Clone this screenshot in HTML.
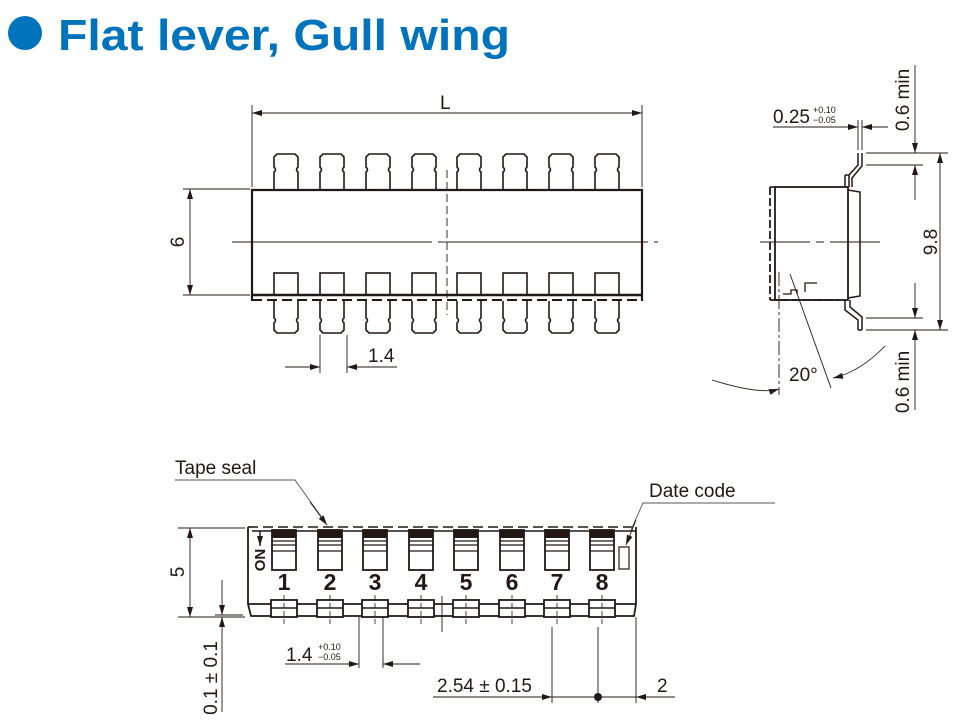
<!DOCTYPE html>
<html><head><meta charset="utf-8"><style>
html,body{margin:0;padding:0;background:#fff;}
svg{display:block;font-family:"Liberation Sans",sans-serif;}
</style></head><body>
<svg width="956" height="721" viewBox="0 0 956 721" xmlns="http://www.w3.org/2000/svg">
<defs>
<marker id="a" viewBox="0 0 10 6" refX="10" refY="3" markerWidth="10" markerHeight="6" markerUnits="userSpaceOnUse" orient="auto"><path d="M0,0 L10,3 L0,6 Z" fill="#231815"/></marker>
<g id="tp" fill="none" stroke="#231815" stroke-width="1.6">
<path d="M-12,190 V172 q3,-2 0,-5 V157 l3,-3 h18 l3,3 V167 q-3,3 0,5 V190"/>
</g>
<g id="bp" fill="none" stroke="#231815" stroke-width="1.6">
<rect x="-12" y="273" width="24" height="22"/>
<path d="M-12,301 V318 q3,2 0,5 V330 l3,3 h18 l3,-3 V323 q-3,-3 0,-5 V301"/>
</g>
<g id="sw" fill="none" stroke="#231815">
<rect x="-12" y="530" width="24" height="40" stroke-width="1.8"/>
<rect x="-12" y="530" width="24" height="8" fill="#231815" stroke="none"/>
<line x1="-12" y1="541" x2="12" y2="541" stroke-width="1.2"/>
<line x1="-12" y1="545" x2="12" y2="545" stroke-width="1.2"/>
<line x1="-12" y1="551" x2="12" y2="551" stroke-width="1.2"/>
<rect x="-13" y="600" width="26" height="17" stroke-width="1.8" fill="#fff"/>
<line x1="-13" y1="608" x2="13" y2="608" stroke-width="1.6"/>
<line x1="0" y1="595" x2="0" y2="627" stroke-width="0.8" stroke-dasharray="5,3"/>
</g>
</defs>

<!-- Title -->
<circle cx="25" cy="33" r="17" fill="#0073bd"/>
<text x="58" y="50" font-size="44" font-weight="bold" fill="#0073bd" textLength="452" lengthAdjust="spacingAndGlyphs">Flat lever, Gull wing</text>

<g stroke="#231815" fill="none">
<!-- TOP VIEW -->
<use href="#tp" x="286"/><use href="#tp" x="332"/><use href="#tp" x="378"/><use href="#tp" x="424"/>
<use href="#tp" x="469"/><use href="#tp" x="515"/><use href="#tp" x="561"/><use href="#tp" x="607"/>
<use href="#bp" x="286"/><use href="#bp" x="332"/><use href="#bp" x="378"/><use href="#bp" x="424"/>
<use href="#bp" x="469"/><use href="#bp" x="515"/><use href="#bp" x="561"/><use href="#bp" x="607"/>
<path d="M252,301 V190 H642 V301" stroke-width="2.2"/>
<line x1="252" y1="295" x2="642" y2="295" stroke-width="2.4"/>
<line x1="252" y1="300" x2="642" y2="300" stroke-width="2" stroke-dasharray="10,5"/>
<line x1="232" y1="242" x2="660" y2="242" stroke-width="0.9" stroke-dasharray="200,6,4,6"/>
<line x1="447" y1="170" x2="447" y2="315" stroke-width="0.9" stroke-dasharray="8,4"/>
<line x1="442" y1="242" x2="452" y2="242" stroke-width="0.9"/>
<!-- L -->
<line x1="252" y1="105" x2="252" y2="187" stroke-width="0.9"/>
<line x1="642" y1="105" x2="642" y2="187" stroke-width="0.9"/>
<line x1="262" y1="113" x2="252" y2="113" stroke-width="0.9" marker-end="url(#a)"/>
<line x1="262" y1="113" x2="632" y2="113" stroke-width="0.9"/>
<line x1="632" y1="113" x2="642" y2="113" stroke-width="0.9" marker-end="url(#a)"/>
<!-- 6 -->
<line x1="183" y1="189" x2="250" y2="189" stroke-width="0.9"/>
<line x1="183" y1="295" x2="250" y2="295" stroke-width="0.9"/>
<line x1="190" y1="199" x2="190" y2="285" stroke-width="0.9"/>
<line x1="190" y1="199" x2="190" y2="189" stroke-width="0.9" marker-end="url(#a)"/>
<line x1="190" y1="285" x2="190" y2="295" stroke-width="0.9" marker-end="url(#a)"/>
<!-- 1.4 top -->
<line x1="320" y1="335" x2="320" y2="373" stroke-width="0.9"/>
<line x1="347" y1="335" x2="347" y2="373" stroke-width="0.9"/>
<line x1="285" y1="367" x2="320" y2="367" stroke-width="0.9" marker-end="url(#a)"/>
<line x1="397" y1="367" x2="347" y2="367" stroke-width="0.9" marker-end="url(#a)"/>

<!-- SIDE VIEW -->
<rect x="775" y="187" width="73" height="113" stroke-width="1.8"/>
<line x1="770" y1="187" x2="770" y2="300" stroke-width="1.8" stroke-dasharray="8,3"/>
<line x1="770" y1="300" x2="840" y2="300" stroke-width="1.8" stroke-dasharray="8,3"/>
<line x1="770" y1="187" x2="775" y2="187" stroke-width="1.6"/>
<path d="M848,190 L860,192 V296 L848,298" stroke-width="1.5"/>
<path d="M858,153 V165 L849,175 V187 M862,153 V166 L852,178 V187" stroke-width="1.5"/>
<path d="M845,175 L849,175 M845,175 V187" stroke-width="1.5"/>
<path d="M845,300 V310 L858,320 V330 M850,300 V307 L862,317 V330 M858,330 H862" stroke-width="1.5"/>
<path d="M783,294 h8 v-4 h6 v4 M805,292 v-9 h12" stroke-width="1.3"/>
<line x1="760" y1="242" x2="883" y2="242" stroke-width="0.9" stroke-dasharray="50,6,8,6"/>
<!-- 0.25 -->
<line x1="858" y1="120" x2="858" y2="150" stroke-width="0.9"/>
<line x1="862" y1="120" x2="862" y2="150" stroke-width="0.9"/>
<line x1="773" y1="127" x2="858" y2="127" stroke-width="0.9" marker-end="url(#a)"/>
<line x1="888" y1="127" x2="862" y2="127" stroke-width="0.9" marker-end="url(#a)"/>
<!-- 0.6 / 9.8 -->
<line x1="866" y1="153" x2="948" y2="153" stroke-width="0.9"/>
<line x1="866" y1="165" x2="923" y2="165" stroke-width="0.9"/>
<line x1="866" y1="318" x2="923" y2="318" stroke-width="0.9"/>
<line x1="866" y1="330" x2="948" y2="330" stroke-width="0.9"/>
<line x1="915" y1="140" x2="915" y2="153" stroke-width="0.9" marker-end="url(#a)"/>
<line x1="915" y1="65" x2="915" y2="142" stroke-width="0.9"/>
<line x1="915" y1="200" x2="915" y2="165" stroke-width="0.9" marker-end="url(#a)"/>
<line x1="915" y1="283" x2="915" y2="318" stroke-width="0.9" marker-end="url(#a)"/>
<line x1="915" y1="410" x2="915" y2="330" stroke-width="0.9" marker-end="url(#a)"/>
<line x1="940" y1="163" x2="940" y2="153" stroke-width="0.9" marker-end="url(#a)"/>
<line x1="940" y1="163" x2="940" y2="320" stroke-width="0.9"/>
<line x1="940" y1="320" x2="940" y2="330" stroke-width="0.9" marker-end="url(#a)"/>
<!-- 20 deg -->
<line x1="779" y1="272" x2="779" y2="395" stroke-width="0.9" stroke-dasharray="14,3,3,3"/>
<line x1="790" y1="274" x2="831" y2="388" stroke-width="0.9"/>
<path d="M712,380 Q760,395 779,389" stroke-width="0.9" marker-end="url(#a)"/>
<path d="M885,346 Q860,372 833,378" stroke-width="0.9" marker-end="url(#a)"/>

<!-- BOTTOM VIEW -->
<path d="M248,527 V604 L251,616 H634 L636,604 V527" stroke-width="1.8"/>
<line x1="248" y1="604" x2="636" y2="604" stroke-width="1.8"/>
<line x1="248" y1="527" x2="636" y2="527" stroke-width="1.6" stroke-dasharray="10,5"/>
<line x1="252" y1="531" x2="636" y2="531" stroke-width="1.4"/>
<use href="#sw" x="284"/><use href="#sw" x="330"/><use href="#sw" x="375"/><use href="#sw" x="421"/>
<use href="#sw" x="466"/><use href="#sw" x="512"/><use href="#sw" x="557"/><use href="#sw" x="602"/>
<rect x="619" y="547" width="10" height="22" stroke-width="1.2"/>
<line x1="442" y1="596" x2="442" y2="632" stroke-width="0.9"/>
<!-- 5 -->
<line x1="178" y1="528" x2="245" y2="528" stroke-width="0.9"/>
<line x1="178" y1="617" x2="245" y2="617" stroke-width="0.9"/>
<line x1="190" y1="538" x2="190" y2="528" stroke-width="0.9" marker-end="url(#a)"/>
<line x1="190" y1="538" x2="190" y2="607" stroke-width="0.9"/>
<line x1="190" y1="607" x2="190" y2="617" stroke-width="0.9" marker-end="url(#a)"/>
<!-- 0.1 -->
<line x1="215" y1="615" x2="243" y2="615" stroke-width="0.9"/>
<line x1="222" y1="580" x2="222" y2="615" stroke-width="0.9" marker-end="url(#a)"/>
<line x1="222" y1="712" x2="222" y2="617" stroke-width="0.9" marker-end="url(#a)"/>
<!-- 1.4 bottom -->
<line x1="359" y1="617" x2="359" y2="668" stroke-width="0.9"/>
<line x1="383" y1="617" x2="383" y2="668" stroke-width="0.9"/>
<line x1="285" y1="664" x2="359" y2="664" stroke-width="0.9" marker-end="url(#a)"/>
<line x1="420" y1="664" x2="383" y2="664" stroke-width="0.9" marker-end="url(#a)"/>
<!-- 2.54 / 2 -->
<line x1="552" y1="627" x2="552" y2="703" stroke-width="0.9"/>
<line x1="598" y1="627" x2="598" y2="703" stroke-width="0.9"/>
<line x1="636" y1="617" x2="636" y2="703" stroke-width="0.9"/>
<line x1="433" y1="697" x2="552" y2="697" stroke-width="0.9" marker-end="url(#a)"/>
<line x1="552" y1="697" x2="636" y2="697" stroke-width="0.9"/>
<line x1="675" y1="697" x2="636" y2="697" stroke-width="0.9" marker-end="url(#a)"/>
<circle cx="598" cy="697" r="4" fill="#231815" stroke="none"/>
<!-- leaders -->
<path d="M175,480 H295 L325,522" stroke-width="0.9" stroke="#555"/>
<line x1="310" y1="502" x2="327" y2="525" stroke-width="0.9" marker-end="url(#a)"/>
<path d="M775,503 H643 L631,530" stroke-width="0.9" stroke="#555"/>
<line x1="636" y1="520" x2="626" y2="545" stroke-width="0.9" marker-end="url(#a)"/>
<!-- ON arrow -->
<line x1="260" y1="531" x2="260" y2="546" stroke-width="1.4" marker-end="url(#a)"/>
</g>

<g fill="#231815">
<text x="440" y="109" font-size="19">L</text>
<text transform="translate(184,242) rotate(-90)" font-size="19" text-anchor="middle">6</text>
<text x="368" y="362" font-size="19">1.4</text>
<text x="773" y="123" font-size="19">0.25</text>
<text x="813" y="113" font-size="9">+0.10</text>
<text x="813" y="123" font-size="9">−0.05</text>
<text transform="translate(909,100) rotate(-90)" font-size="19" text-anchor="middle">0.6 min</text>
<text transform="translate(909,382) rotate(-90)" font-size="19" text-anchor="middle">0.6 min</text>
<text transform="translate(937,242) rotate(-90)" font-size="19" text-anchor="middle">9.8</text>
<text x="789" y="381" font-size="19">20°</text>
<text x="175" y="474" font-size="19">Tape seal</text>
<text x="649" y="497" font-size="19">Date code</text>
<text transform="translate(265,560) rotate(-90)" font-size="15" font-weight="bold" text-anchor="middle">ON</text>
<g font-size="23" font-weight="bold" text-anchor="middle">
<text x="284" y="590">1</text><text x="330" y="590">2</text><text x="375" y="590">3</text><text x="421" y="590">4</text>
<text x="466" y="590">5</text><text x="512" y="590">6</text><text x="557" y="590">7</text><text x="602" y="590">8</text>
</g>
<text transform="translate(184,572) rotate(-90)" font-size="19" text-anchor="middle">5</text>
<text transform="translate(217,678) rotate(-90)" font-size="19" text-anchor="middle">0.1 ± 0.1</text>
<text x="286" y="661" font-size="19">1.4</text>
<text x="318" y="650" font-size="9">+0.10</text>
<text x="318" y="660" font-size="9">−0.05</text>
<text x="437" y="692" font-size="19">2.54 ± 0.15</text>
<text x="657" y="692" font-size="19">2</text>
</g>
</svg>
</body></html>
